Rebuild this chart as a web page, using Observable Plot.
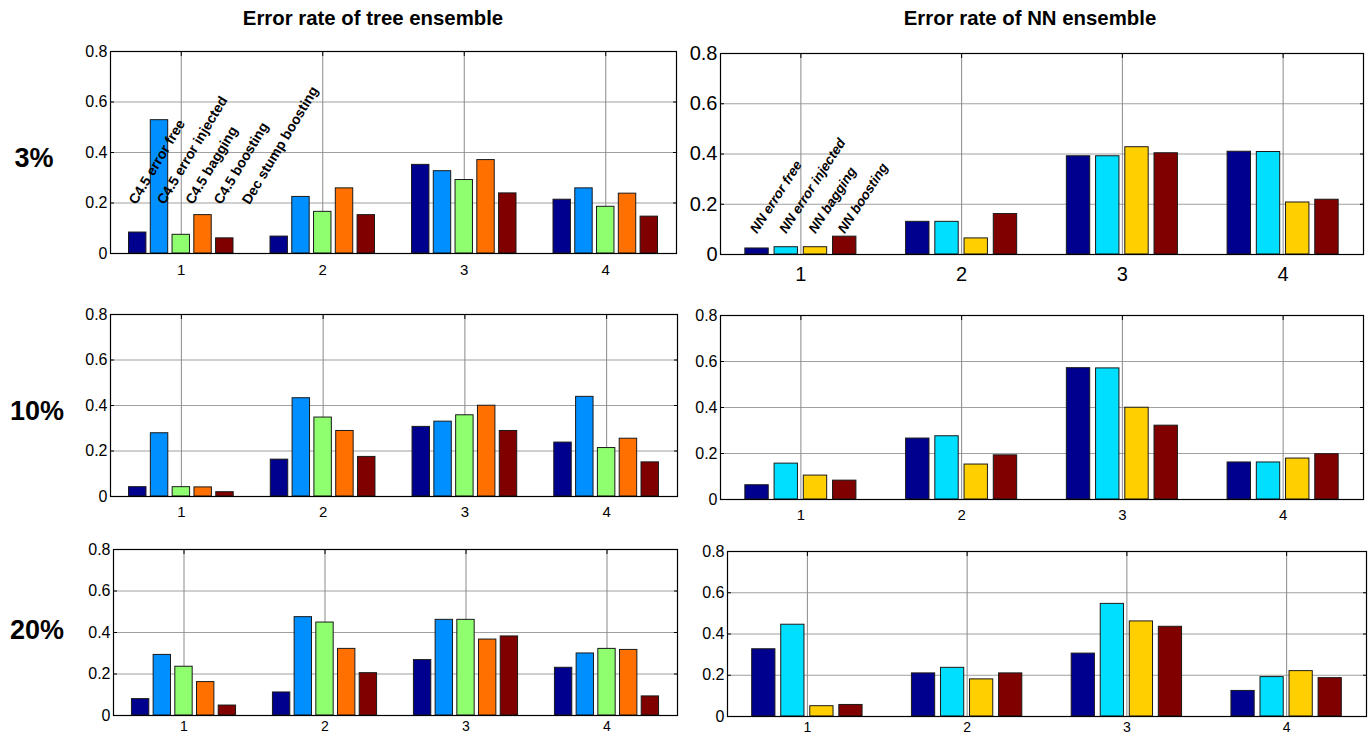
<!DOCTYPE html>
<html><head><meta charset="utf-8">
<script src="https://cdn.jsdelivr.net/npm/d3@7"></script>
<script src="https://cdn.jsdelivr.net/npm/@observablehq/plot@0.6"></script>
<style>
html,body{margin:0;padding:0;background:#fff}
#root{position:relative;width:1372px;height:737px;overflow:hidden;background:#fff;font-family:"Liberation Sans",Arial,sans-serif}
.panel{position:absolute}
.title{position:absolute;font-family:"Liberation Sans",Arial,sans-serif;font-weight:bold;font-size:21px;white-space:nowrap;transform:translate(-50%,-50%) scaleX(0.97)}
.row{position:absolute;font-family:"Liberation Sans",Arial,sans-serif;font-weight:bold;font-size:27px;white-space:nowrap;transform:translate(-50%,-50%)}
</style></head><body>
<div id="root"></div>
<script>
// ---- data ----
const groups = [1, 2, 3, 4];
const yTicks = [0, 0.2, 0.4, 0.6, 0.8];
const titles = ["Error rate of tree ensemble", "Error rate of NN ensemble"];
const noiseLevels = ["3%", "10%", "20%"];
const treeSeries = ["C4.5 error free", "C4.5 error injected", "C4.5 bagging", "C4.5 boosting", "Dec stump boosting"];
const nnSeries = ["NN error free", "NN error injected", "NN bagging", "NN boosting"];
const treeColors = ["#00008f", "#008fff", "#8fff70", "#ff7000", "#800000"];
const nnColors = ["#00008f", "#00dfff", "#ffcf00", "#800000"];

// values[series][group]
const tree3 = [
  [0.083, 0.067, 0.351, 0.213],
  [0.528, 0.224, 0.326, 0.258],
  [0.074, 0.165, 0.291, 0.185],
  [0.152, 0.258, 0.370, 0.237],
  [0.060, 0.152, 0.238, 0.146]
];
const tree10 = [
  [0.041, 0.162, 0.306, 0.237],
  [0.278, 0.432, 0.329, 0.438],
  [0.041, 0.347, 0.357, 0.213],
  [0.040, 0.288, 0.399, 0.254],
  [0.019, 0.174, 0.288, 0.150]
];
const tree20 = [
  [0.079, 0.111, 0.267, 0.230],
  [0.292, 0.474, 0.461, 0.299],
  [0.235, 0.448, 0.461, 0.321],
  [0.161, 0.321, 0.366, 0.316],
  [0.048, 0.204, 0.381, 0.092]
];
const nn3 = [
  [0.024, 0.130, 0.391, 0.409],
  [0.029, 0.130, 0.391, 0.408],
  [0.029, 0.064, 0.427, 0.207],
  [0.071, 0.161, 0.403, 0.218]
];
const nn10 = [
  [0.062, 0.265, 0.571, 0.161],
  [0.156, 0.275, 0.570, 0.161],
  [0.104, 0.152, 0.399, 0.178],
  [0.082, 0.192, 0.321, 0.197]
];
const nn20 = [
  [0.326, 0.209, 0.305, 0.124],
  [0.445, 0.236, 0.546, 0.191],
  [0.050, 0.180, 0.461, 0.220],
  [0.056, 0.209, 0.435, 0.186]
];

// ---- drawing ----
const root = document.getElementById("root");
const ML = 48, MR = 6, MT = 6, MB = 30;

function panel(cfg) {
  const {values, series, colors, box, fontSize, labels} = cfg;
  const n = series.length;
  const gw = Math.min(0.8, n / (n + 1.5));
  const pitch = gw / n;
  const bw = pitch * 0.8;
  const data = [];
  series.forEach((s, i) => groups.forEach((g, j) => {
    const x1 = g - gw / 2 + i * pitch + (pitch - bw) / 2;
    data.push({series: s, g, x1, x2: x1 + bw, v: values[i][j]});
  }));
  const marks = [
    Plot.ruleY(yTicks.slice(1, -1), {stroke: "#a0a0a0", strokeWidth: 1}),
    Plot.ruleX(groups, {stroke: "#8a8a8a", strokeWidth: 1}),
    Plot.rect(data, {x1: "x1", x2: "x2", y1: 0, y2: "v", fill: "series", stroke: "#1a1a1a", strokeWidth: 1}),
    Plot.frame({stroke: "#000", strokeWidth: 1.2}),
    Plot.axisX(groups, {anchor: "bottom", tickSize: 0, tickPadding: cfg.xPad, tickFormat: d => String(d), fontSize: cfg.xFont || fontSize}),
    Plot.axisX(groups, {anchor: "top", tickSize: -4, tickFormat: () => ""}),
    Plot.axisY(yTicks, {anchor: "left", tickSize: -4, tickPadding: cfg.yPad, tickFormat: d => String(d), fontSize}),
    Plot.axisY(yTicks, {anchor: "right", tickSize: -4, tickFormat: () => ""})
  ];
  if (labels) {
    marks.push(Plot.text(labels.names, {
      x: (d, i) => labels.x0 + i * labels.step,
      y: labels.y,
      text: d => d,
      rotate: labels.rotate,
      textAnchor: "start",
      fontWeight: "bold",
      fontStyle: labels.italic ? "italic" : "normal",
      fontSize: labels.fontSize,
      fill: "#000"
    }));
  }
  const svg = Plot.plot({
    width: box.w + ML + MR,
    height: box.h + MT + MB,
    marginLeft: ML, marginRight: MR, marginTop: MT, marginBottom: MB,
    x: {type: "linear", domain: [0.5, 4.5], label: null, axis: null},
    y: {type: "linear", domain: [0, 0.8], label: null, axis: null},
    color: {domain: series, range: colors},
    style: {fontFamily: "'Liberation Sans', Arial, sans-serif", fontSize: fontSize + "px", color: "#000", background: "transparent", overflow: "visible"},
    marks
  });
  const div = document.createElement("div");
  div.className = "panel";
  div.style.left = (box.x - ML) + "px";
  div.style.top = (box.y - MT) + "px";
  div.appendChild(svg);
  root.appendChild(div);
}

// tree panels
panel({values: tree3, series: treeSeries, colors: treeColors, box: {x: 110, y: 51, w: 566, h: 202}, fontSize: 16, xFont: 15, xPad: 11, yPad: 7,
  labels: {names: treeSeries, x0: 0.655, step: 0.2, y: 0.2, rotate: -59, fontSize: 14, italic: false}});
panel({values: tree10, series: treeSeries, colors: treeColors, box: {x: 110, y: 314, w: 567, h: 182}, fontSize: 16, xFont: 15, xPad: 10, yPad: 7});
panel({values: tree20, series: treeSeries, colors: treeColors, box: {x: 113, y: 549, w: 564, h: 166}, fontSize: 16, xFont: 14, xPad: 6, yPad: 7});
// NN panels
panel({values: nn3, series: nnSeries, colors: nnColors, box: {x: 720, y: 53, w: 643, h: 201}, fontSize: 20, xPad: 12, yPad: 7,
  labels: {names: nnSeries, x0: 0.705, step: 0.1818, y: 0.09, rotate: -57, fontSize: 13.5, italic: true}});
panel({values: nn10, series: nnSeries, colors: nnColors, box: {x: 720, y: 315, w: 643, h: 184}, fontSize: 16, xFont: 15, xPad: 10, yPad: 7});
panel({values: nn20, series: nnSeries, colors: nnColors, box: {x: 727, y: 551, w: 639, h: 165}, fontSize: 16, xFont: 14, xPad: 6, yPad: 7});

// titles and row labels
function addText(cls, txt, x, y) {
  const d = document.createElement("div");
  d.className = cls; d.textContent = txt;
  d.style.left = x + "px"; d.style.top = y + "px";
  root.appendChild(d);
}
addText("title", titles[0], 373, 18);
addText("title", titles[1], 1030, 18);
addText("row", noiseLevels[0], 34, 158);
addText("row", noiseLevels[1], 37, 411);
addText("row", noiseLevels[2], 37, 630);
</script>
</body></html>
